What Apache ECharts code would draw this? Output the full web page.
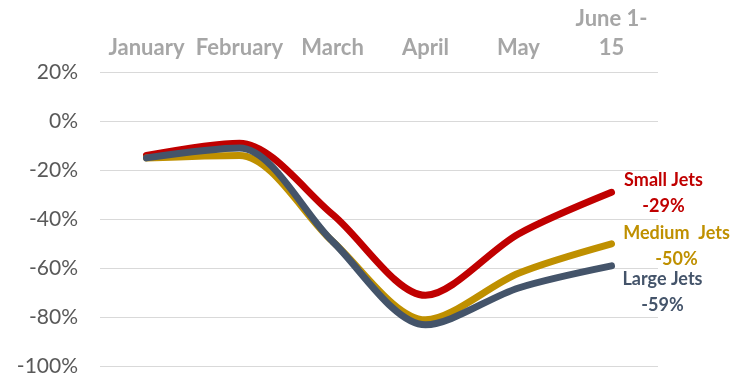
<!DOCTYPE html>
<html>
<head>
<meta charset="utf-8">
<script src="https://cdn.jsdelivr.net/npm/echarts@6/dist/echarts.min.js"></script>
<style>
  html, body { margin: 0; padding: 0; background: #fff; }
  #chart { width: 748px; height: 377px; }
</style>
</head>
<body>
<div id="chart"></div>
<script>
// Change in jet activity vs. prior year, by month
const categories = ['January', 'February', 'March', 'April', 'May', 'June 1-\n15'];
const smallJets  = [-14, -9, -38, -71, -46, -29];
const mediumJets = [-15, -14, -49, -81, -62, -50];
const largeJets  = [-15, -11, -49, -83, -68, -59];
const yTicks = { min: -100, max: 20, step: 20 };

const FONT = 'Lato, "Open Sans", sans-serif';

function lineSeries(name, label, values, color, offset) {
  return {
    name: name,
    type: 'line',
    smooth: 0.3,
    symbol: 'none',
    showSymbol: false,
    lineStyle: { color: color, width: 7, cap: 'round' },
    itemStyle: { color: color },
    data: values,
    endLabel: {
      show: true,
      align: 'center',
      offset: offset,
      formatter: p => label + '\n' + p.value + '%',
      color: color,
      fontFamily: FONT,
      fontWeight: 'bold',
      fontSize: 18,
      lineHeight: 26
    },
    z: 3
  };
}

const chart = echarts.init(document.getElementById('chart'));
chart.setOption({
  animation: false,
  grid: { left: 100, right: 90, top: 72, bottom: 9 },
  xAxis: {
    type: 'category',
    position: 'top',
    data: categories,
    boundaryGap: true,
    axisLine: { show: false },
    axisTick: { show: false },
    axisLabel: {
      interval: 0,
      color: '#a6a6a6',
      fontFamily: FONT,
      fontWeight: 'bold',
      fontSize: 22,
      lineHeight: 29,
      margin: 10
    }
  },
  yAxis: {
    type: 'value',
    min: yTicks.min,
    max: yTicks.max,
    interval: yTicks.step,
    axisLine: { show: false },
    axisTick: { show: false },
    axisLabel: {
      color: '#595959',
      fontFamily: FONT,
      fontSize: 21,
      margin: 22,
      formatter: v => v + '%'
    },
    splitLine: { lineStyle: { color: '#d9d9d9', width: 1 } }
  },
  series: [
    lineSeries('Small', 'Small Jets', smallJets, '#c00000', [44, 1]),
    lineSeries('Medium', 'Medium  Jets', mediumJets, '#bf9000', [57, 2]),
    lineSeries('Large', 'Large Jets', largeJets, '#44546a', [43, 26])
  ]
});
</script>
</body>
</html>
